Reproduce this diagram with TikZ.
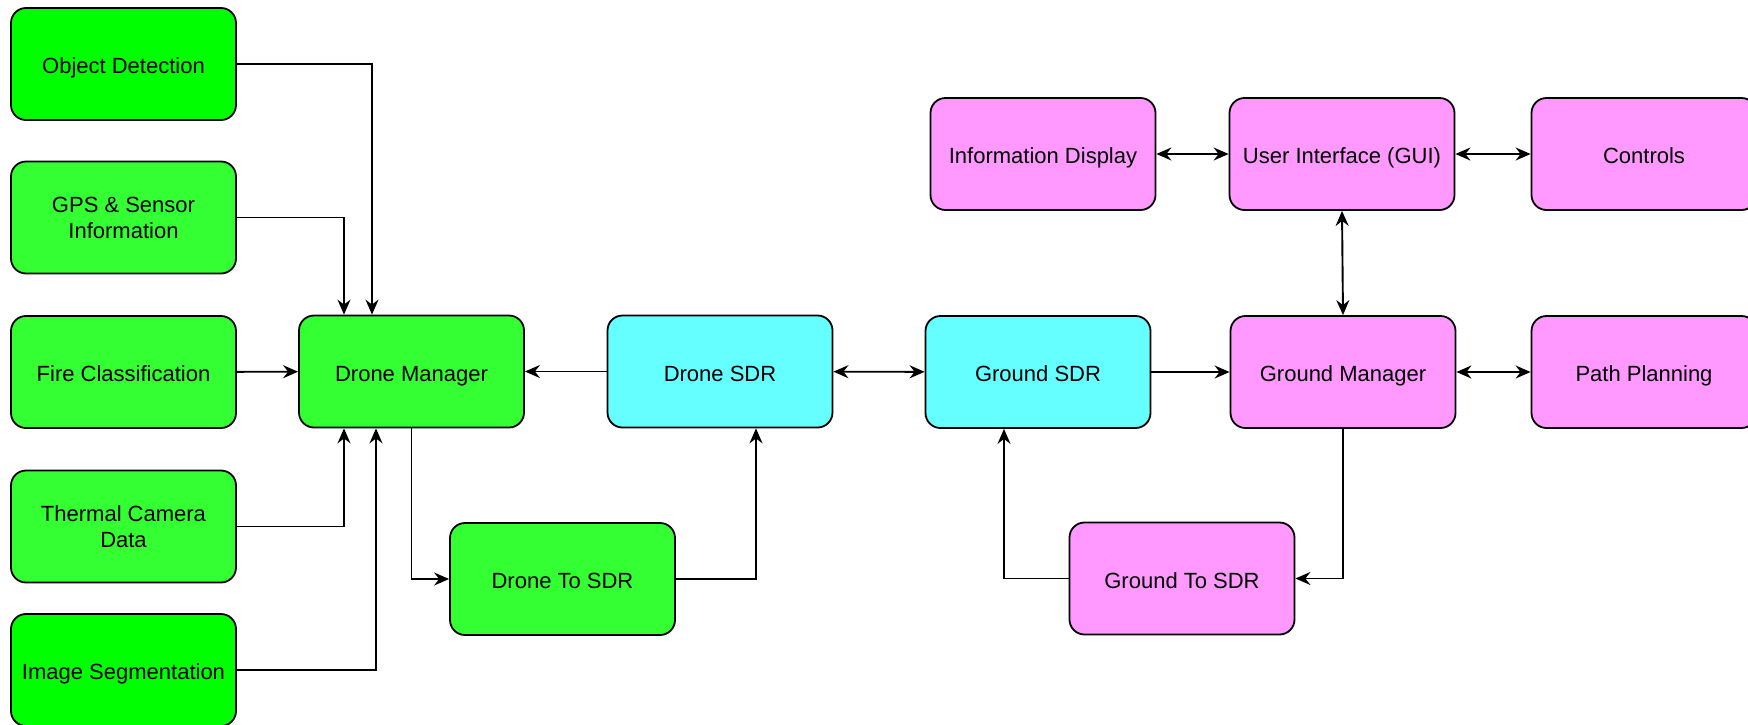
\documentclass[tikz,border=0pt]{standalone}
\usepackage{fontspec}
\setmainfont{Liberation Sans}
\usetikzlibrary{arrows.meta}
\definecolor{dronegreen}{HTML}{33FF33}
\definecolor{brightgreen}{HTML}{00FF00}
\definecolor{sdrcyan}{HTML}{66FFFF}
\definecolor{groundpink}{HTML}{FF99FF}
\tikzset{
  block/.style={draw, line width=1.8pt, rounded corners=15pt, minimum width=225pt,
    minimum height=112pt, inner sep=2pt, align=center, text height=19.4pt, text depth=0pt,
    font=\fontsize{22}{26}\selectfont},
  twoline/.style={text height={}, text depth={}},
  link/.style={line width=1.9pt, >={Stealth[length=15pt,width=13pt,inset=5pt]}}
}
\begin{document}
\begin{tikzpicture}[x=1pt,y=-1pt]
  \fill[white] (0,0) rectangle (1748,724);
  \useasboundingbox (0,0) rectangle (1748,724);
  % drone side
  \node[block,fill=brightgreen] (objdet) at (123.5,64) {Object Detection};
  \node[block,twoline,fill=dronegreen] (gps) at (123.5,217.5) {GPS \& Sensor\\Information};
  \node[block,fill=dronegreen] (fire) at (123.5,372) {Fire Classification};
  \node[block,twoline,fill=dronegreen] (thermal) at (123.5,526.5) {Thermal Camera\\Data};
  \node[block,fill=brightgreen] (imgseg) at (123.5,670) {Image Segmentation};
  \node[block,fill=dronegreen] (dronemgr) at (411.5,371.5) {Drone Manager};
  \node[block,fill=dronegreen] (dronetosdr) at (562.5,579) {Drone To SDR};
  % radios
  \node[block,fill=sdrcyan] (dronesdr) at (720,371.5) {Drone SDR};
  \node[block,fill=sdrcyan] (groundsdr) at (1038,372) {Ground SDR};
  % ground side
  \node[block,fill=groundpink] (groundmgr) at (1343,372) {Ground Manager};
  \node[block,fill=groundpink] (groundtosdr) at (1182,578.5) {Ground To SDR};
  \node[block,fill=groundpink] (pathplan) at (1644,372) {Path Planning};
  \node[block,fill=groundpink] (infodisp) at (1043,154) {Information Display};
  \node[block,fill=groundpink] (gui) at (1342,154) {User Interface (GUI)};
  \node[block,fill=groundpink] (controls) at (1644,154) {Controls};

  % inputs to the drone manager
  \draw[link,->] (objdet.east) -| ([xshift=-39.5pt]dronemgr.north);
  \draw[link,->] (gps.east) -| ([xshift=-67.5pt]dronemgr.north);
  \draw[link,->] (fire) -- (dronemgr);
  \draw[link,->] (thermal.east) -| ([xshift=-67.5pt]dronemgr.south);
  \draw[link,->] (imgseg.east) -| ([xshift=-35.5pt]dronemgr.south);
  % drone loop
  \draw[link,->] (dronesdr) -- (dronemgr);
  \draw[link,->] (dronemgr.south) |- (dronetosdr.west);
  \draw[link,->] (dronetosdr.east) -| ([xshift=36pt]dronesdr.south);
  \draw[link,<->] (dronesdr) -- (groundsdr);
  % ground loop
  \draw[link,->] (groundsdr) -- (groundmgr);
  \draw[link,<->] (groundmgr) -- (pathplan);
  \draw[link,<->] (gui.south) -- (groundmgr.north);
  \draw[link,<->] (infodisp) -- (gui);
  \draw[link,<->] (gui) -- (controls);
  \draw[link,->] (groundmgr.south) |- (groundtosdr.east);
  \draw[link,->] (groundtosdr.west) -| ([xshift=-34pt]groundsdr.south);
\end{tikzpicture}
\end{document}
